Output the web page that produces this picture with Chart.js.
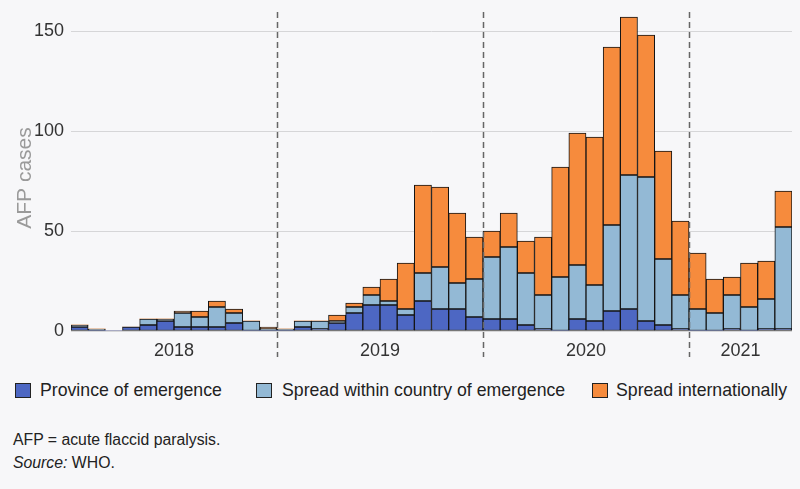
<!DOCTYPE html>
<html>
<head>
<meta charset="utf-8">
<script src="https://cdn.jsdelivr.net/npm/chart.js@4/dist/chart.umd.min.js"></script>
<style>
  html, body { margin: 0; padding: 0; background: #f7f7f9; }
  body { width: 800px; height: 489px; position: relative; overflow: hidden; font-family: "Liberation Sans", Arial, sans-serif; color: #222; }
  #wrap { position: absolute; left: 0; top: 0; width: 800px; height: 365px; }
  .leg { position: absolute; top: 380px; font-size: 17.7px; line-height: 20px; white-space: nowrap; }
  .box { position: absolute; top: 3px; width: 14px; height: 13px; border: 1px solid #222; }
  .note { position: absolute; left: 13px; font-size: 15.8px; line-height: 18px; white-space: nowrap; }
</style>
</head>
<body>
<div id="wrap"><canvas id="c"></canvas></div>

<div class="leg" style="left:15px;"><span class="box" style="background:#4d67c3;"></span><span style="margin-left:25px;">Province of emergence</span></div>
<div class="leg" style="left:256px;"><span class="box" style="background:#93b9d5;"></span><span style="margin-left:26px;">Spread within country of emergence</span></div>
<div class="leg" style="left:592px;"><span class="box" style="background:#f68b3d;"></span><span style="margin-left:24px;">Spread internationally</span></div>

<div class="note" style="top:431px;">AFP = acute flaccid paralysis.</div>
<div class="note" style="top:454px;"><i>Source:</i> WHO.</div>

<script>
// Months Jan 2018 .. Jun 2021
const months = [
  "2018-01","2018-02","2018-03","2018-04","2018-05","2018-06","2018-07","2018-08","2018-09","2018-10","2018-11","2018-12",
  "2019-01","2019-02","2019-03","2019-04","2019-05","2019-06","2019-07","2019-08","2019-09","2019-10","2019-11","2019-12",
  "2020-01","2020-02","2020-03","2020-04","2020-05","2020-06","2020-07","2020-08","2020-09","2020-10","2020-11","2020-12",
  "2021-01","2021-02","2021-03","2021-04","2021-05","2021-06"
];
const years = ["2018","2019","2020","2021"];
const yTicks = [0, 50, 100, 150];
const yTitle = "AFP cases";

const provinceOfEmergence = [
  2,0,0,2,3,5,2,2,2,4,0,0,
  0,2,1,4,9,13,13,8,15,11,11,7,
  6,6,3,1,0,6,5,10,11,5,3,1,
  0,0,1,0,1,1
];
const spreadWithinCountry = [
  1,1,0,0,3,1,7,5,10,5,5,1,
  1,3,4,1,3,5,2,3,14,21,13,19,
  31,36,26,17,27,27,18,43,67,72,33,17,
  11,9,17,12,15,51
];
const spreadInternationally = [
  0,0,0,0,0,0,1,3,3,2,0,1,
  0,0,0,3,2,4,11,23,44,40,35,21,
  13,17,16,29,55,66,74,89,79,71,54,37,
  28,17,9,22,19,18
];

const seriesNames = ["Province of emergence","Spread within country of emergence","Spread internationally"];
const seriesColors = ["#4d67c3","#93b9d5","#f68b3d"];

const bw = ctx => (ctx.raw ? 1 : 0);

const yearPlugin = {
  id: 'yearPlugin',
  afterDatasetsDraw(chart) {
    const {ctx, scales: {x}, chartArea} = chart;
    const step = x.getPixelForValue(1) - x.getPixelForValue(0);
    ctx.save();
    ctx.strokeStyle = '#666';
    ctx.lineWidth = 1.5;
    ctx.setLineDash([6, 4]);
    for (let y = 1; y < years.length; y++) {
      const i = y * 12;
      const px = Math.round(x.getPixelForValue(i) - step / 2) + 0.5;
      ctx.beginPath();
      ctx.moveTo(px, chartArea.top + 1);
      ctx.lineTo(px, chartArea.bottom + 26);
      ctx.stroke();
    }
    ctx.restore();
    ctx.save();
    ctx.fillStyle = '#333';
    ctx.font = '18px "Liberation Sans", Arial, sans-serif';
    ctx.textAlign = 'center';
    ctx.textBaseline = 'middle';
    years.forEach((yr, k) => {
      const first = k * 12;
      const last = Math.min(first + 11, months.length - 1);
      const left = x.getPixelForValue(first) - step / 2;
      const right = x.getPixelForValue(last) + step / 2;
      ctx.fillText(yr, (left + right) / 2, chartArea.bottom + 20);
    });
    ctx.restore();
    // y-axis title
    ctx.save();
    ctx.translate(25, 178);
    ctx.rotate(-Math.PI / 2);
    ctx.fillStyle = '#9a9a9a';
    ctx.font = '21px "Liberation Sans", Arial, sans-serif';
    ctx.textAlign = 'center';
    ctx.textBaseline = 'middle';
    ctx.fillText(yTitle, 0, 0);
    ctx.restore();
  }
};

new Chart(document.getElementById('c'), {
  type: 'bar',
  data: {
    labels: months,
    datasets: [
      { label: seriesNames[0], data: provinceOfEmergence, backgroundColor: seriesColors[0] },
      { label: seriesNames[1], data: spreadWithinCountry, backgroundColor: seriesColors[1] },
      { label: seriesNames[2], data: spreadInternationally, backgroundColor: seriesColors[2] }
    ].map(d => Object.assign(d, {
      borderColor: '#151515', borderWidth: bw, borderSkipped: false,
      barPercentage: 1, categoryPercentage: 1
    }))
  },
  options: {
    responsive: true,
    maintainAspectRatio: false,
    animation: false,
    layout: { padding: { left: 0, right: 8, top: 11, bottom: 0 } },
    plugins: { legend: { display: false }, tooltip: { enabled: false } },
    scales: {
      x: {
        stacked: true,
        grid: { display: false },
        border: { display: false },
        ticks: { display: false },
        afterFit: s => { s.height = 34; s.paddingLeft = 0; s.paddingRight = 0; }
      },
      y: {
        stacked: true,
        min: 0, max: 160,
        afterBuildTicks: s => { s.ticks = yTicks.map(v => ({ value: v })); },
        grid: { color: '#d6d6d8', lineWidth: 1, drawTicks: false },
        border: { display: false },
        ticks: { color: '#333', padding: 7, font: { size: 18, family: '"Liberation Sans", Arial, sans-serif' } },
        title: { display: false },
        afterFit: s => { s.width = 71; s.paddingTop = 0; s.paddingBottom = 0; }
      }
    }
  },
  plugins: [yearPlugin]
});
</script>
</body>
</html>
